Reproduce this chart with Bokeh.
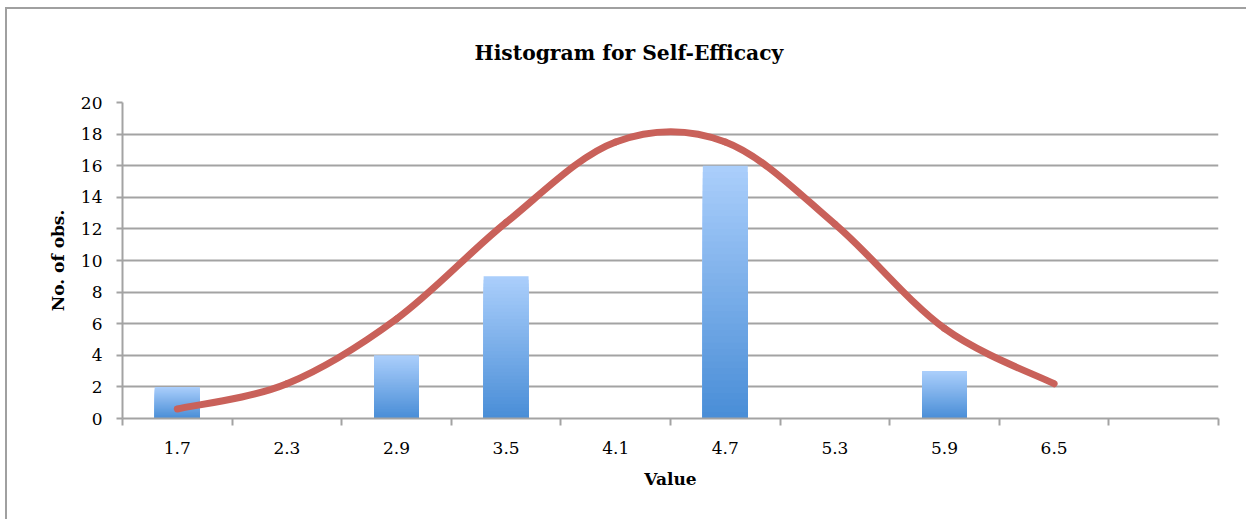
import numpy as np
from bokeh.plotting import figure
from bokeh.models import FixedTicker, ColumnDataSource, Range1d, Title
from bokeh.embed import file_html
from bokeh.resources import INLINE

# ---- data ----
categories = ["1.7", "2.3", "2.9", "3.5", "4.1", "4.7", "5.3", "5.9", "6.5", ""]
counts = [2, 0, 4, 9, 0, 16, 0, 3, 0]
normal_curve = [0.6, 2.2, 6.3, 12.4, 17.5, 17.5, 12.3, 5.7, 2.2]
y_ticks = [0, 2, 4, 6, 8, 10, 12, 14, 16, 18, 20]

TITLE = "Histogram for Self-Efficacy"
X_LABEL = "Value"
Y_LABEL = "No. of obs."

GRID = "#a3a3a3"
CURVE = "#c9615a"
BAR_TOP = np.array([0xaa, 0xce, 0xfb])
BAR_BOT = np.array([0x4a, 0x8e, 0xd7])

n_cat = len(categories)
pos = np.arange(1, n_cat + 1)

p = figure(width=1241, height=512, output_backend="svg", toolbar_location=None,
           x_range=Range1d(0.5, n_cat + 0.5), y_range=Range1d(0, 20),
           min_border_left=115, min_border_right=30, min_border_top=93,
           min_border_bottom=103)
p.styles = {"border-left": "2px solid #a0a0a0", "border-top": "2px solid #a0a0a0",
            "margin-left": "5px", "margin-top": "7px"}
p.outline_line_color = None
p.background_fill_color = "white"
p.border_fill_color = "white"
p.title.text = ""

# spacer between title and plot area, then the title itself
spacer = Title(text=" ", text_font="DejaVu Serif", text_font_size="20.3px",
               text_font_style="bold", text_color="white")
spacer.standoff = 0
p.add_layout(spacer, "above")

main_title = Title(text=TITLE, align="left", text_font="DejaVu Serif",
                   text_font_size="20.3px", text_font_style="bold",
                   text_color="black")
main_title.standoff = 24
main_title.offset = 352
p.add_layout(main_title, "above")

# ---- bars with vertical gradient (overlapping slices) ----
N = 40
xs, tops, cols = [], [], []
for k in range(N):
    frac = 1 - k / N
    t = k / (N - 1)
    c = (BAR_TOP * (1 - t) + BAR_BOT * t).round().astype(int)
    col = "#%02x%02x%02x" % tuple(c)
    for i, v in enumerate(counts):
        if v > 0:
            xs.append(pos[i]); tops.append(v * frac); cols.append(col)
src = ColumnDataSource(dict(x=xs, top=tops, color=cols))
p.vbar(x="x", top="top", bottom=0, width=0.41, fill_color="color",
       line_color=None, source=src)

# ---- smoothed normal curve (Catmull-Rom -> cubic Bezier) ----
cx = pos[:len(normal_curve)].astype(float)
cy = np.array(normal_curve, dtype=float)
px = np.concatenate([[cx[0]], cx, [cx[-1]]])
py = np.concatenate([[cy[0]], cy, [cy[-1]]])
x0 = px[1:-2]; y0 = py[1:-2]
x1 = px[2:-1]; y1 = py[2:-1]
cx0 = x0 + (px[2:-1] - px[:-3]) / 6
cy0 = y0 + (py[2:-1] - py[:-3]) / 6
cx1 = x1 - (px[3:] - px[1:-2]) / 6
cy1 = y1 - (py[3:] - py[1:-2]) / 6
p.bezier(x0=x0, y0=y0, x1=x1, y1=y1, cx0=cx0, cy0=cy0, cx1=cx1, cy1=cy1,
         line_color=CURVE, line_width=7, line_cap="round")

# ---- axes ----
xa = p.xaxis[0]
xa.ticker = FixedTicker(ticks=list(pos), minor_ticks=list(np.arange(0.5, n_cat + 1, 1.0)))
xa.major_label_overrides = {int(pos[i]): categories[i] for i in range(n_cat)}
xa.major_tick_out = 0
xa.major_tick_in = 0
xa.minor_tick_out = 7
xa.minor_tick_in = 0
xa.minor_tick_line_color = GRID
xa.minor_tick_line_width = 2
xa.axis_line_color = GRID
xa.axis_line_width = 2
xa.major_label_text_font = "DejaVu Serif"
xa.major_label_text_font_size = "17px"
xa.major_label_text_color = "black"
xa.major_label_standoff = 16
xa.axis_label = X_LABEL
xa.axis_label_text_font = "DejaVu Serif"
xa.axis_label_text_font_size = "17px"
xa.axis_label_text_font_style = "bold"
xa.axis_label_text_color = "black"
xa.axis_label_standoff = 12

ya = p.yaxis[0]
ya.ticker = FixedTicker(ticks=y_ticks, minor_ticks=[])
ya.major_tick_out = 6
ya.major_tick_in = 0
ya.major_tick_line_color = GRID
ya.major_tick_line_width = 2
ya.axis_line_color = GRID
ya.axis_line_width = 2
ya.major_label_text_font = "DejaVu Serif"
ya.major_label_text_font_size = "17px"
ya.major_label_text_color = "black"
ya.major_label_standoff = 14
ya.axis_label = Y_LABEL
ya.axis_label_text_font = "DejaVu Serif"
ya.axis_label_text_font_size = "17px"
ya.axis_label_text_font_style = "bold"
ya.axis_label_text_color = "black"
ya.axis_label_standoff = 10

p.xgrid.grid_line_color = None
p.ygrid.ticker = FixedTicker(ticks=y_ticks)
p.ygrid.grid_line_color = GRID
p.ygrid.grid_line_width = 2

open("out.html", "w").write(file_html(p, INLINE))
